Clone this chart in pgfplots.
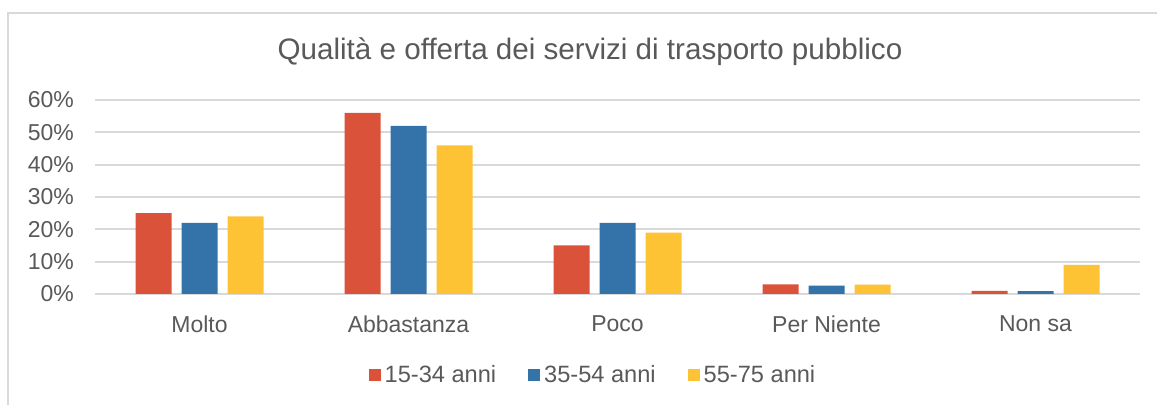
\documentclass[border=0pt]{standalone}
\usepackage{fontspec}
\setmainfont{Liberation Sans}
\usepackage{pgfplots}
\pgfplotsset{compat=1.18}
\definecolor{cred}{HTML}{DA523A}
\definecolor{cblue}{HTML}{3472AA}
\definecolor{cyellow}{HTML}{FEC334}
\definecolor{txt}{HTML}{595959}
\definecolor{gridc}{HTML}{D9D9D9}
\begin{document}
\begin{tikzpicture}
\useasboundingbox (0,0) rectangle (578.5pt,-202.5pt);
\draw[gridc, line width=1pt] (4pt,-205pt) -- (4pt,-6.5pt) -- (580pt,-6.5pt);
\node[text=txt, font=\fontsize{14.8}{17}\selectfont] at (295pt,-26pt) {Qualità e offerta dei servizi di trasporto pubblico};
\begin{axis}[
  at={(47.5pt,-147pt)}, anchor=south west,
  scale only axis, width=522.5pt, height=97pt,
  ybar=5pt, bar width=18pt,
  xmin=-0.5, xmax=4.5, ymin=0, ymax=60,
  xtick=data,
  xticklabels={Molto,Abbastanza,Poco,Per Niente,Non sa},
  ytick={0,10,...,60},
  yticklabel={\pgfmathprintnumber{\tick}\%},
  /pgf/number format/assume math mode=true,
  ymajorgrids, grid style={gridc, line width=1pt},
  axis line style={draw=none},
  major tick length=0pt,
  tick label style={text=txt, font=\fontsize{11.5}{13}\selectfont},
  yticklabel style={xshift=-7pt},
  xticklabel style={yshift=-7.5pt},
  legend columns=3,
  legend style={at={(0.4775,-0.4175)}, anchor=center, draw=none, fill=none,
    font=\fontsize{11.8}{13}\selectfont, text=txt,
    /tikz/every even column/.append style={column sep=14pt}},
  legend image code/.code={\fill[#1] (0pt,-3pt) rectangle (6pt,3pt);},
]
\addplot[fill=cred, draw=none] coordinates {(0,25) (1,56) (2,15) (3,3) (4,1)};
\addplot[fill=cblue, draw=none] coordinates {(0,22) (1,52) (2,22) (3,2.6) (4,0.9)};
\addplot[fill=cyellow, draw=none] coordinates {(0,24) (1,46) (2,19) (3,2.9) (4,9)};
\legend{15-34 anni,35-54 anni,55-75 anni}
\end{axis}
\end{tikzpicture}
\end{document}
